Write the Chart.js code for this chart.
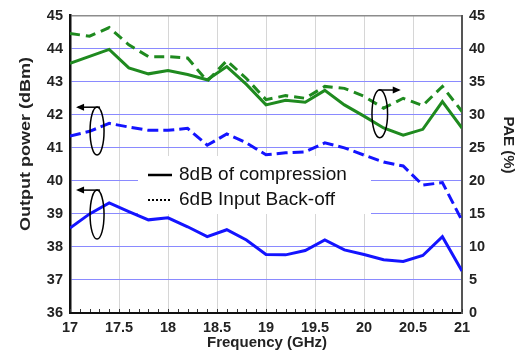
<!DOCTYPE html>
<html>
<head>
<meta charset="utf-8">
<script src="https://cdn.jsdelivr.net/npm/chart.js@4/dist/chart.umd.min.js"></script>
<style>
  html, body { margin: 0; padding: 0; background: #fff; }
  canvas { display: block; }
</style>
</head>
<body>
<canvas id="c" width="522" height="354"></canvas>
<script>
// Frequency sweep (GHz)
const freq = [17, 17.2, 17.4, 17.6, 17.8, 18, 18.2, 18.4, 18.6, 18.8, 19, 19.2, 19.4, 19.6, 19.8, 20, 20.2, 20.4, 20.6, 20.8, 21];

// Output power (dBm)
const powerComp    = [38.57, 39.0, 39.33, 39.07, 38.82, 38.88, 38.61, 38.31, 38.52, 38.21, 37.77, 37.76, 37.89, 38.21, 37.91, 37.77, 37.61, 37.56, 37.74, 38.31, 37.27];
const powerBackoff = [41.36, 41.5, 41.74, 41.63, 41.53, 41.53, 41.59, 41.08, 41.42, 41.15, 40.79, 40.85, 40.88, 41.15, 41.0, 40.78, 40.57, 40.45, 39.87, 39.95, 38.8];

// Power-added efficiency (%)
const paeComp    = [37.8, 38.85, 39.9, 37.1, 36.2, 36.7, 36.1, 35.3, 37.3, 34.6, 31.5, 32.2, 31.9, 33.7, 31.5, 29.8, 28.0, 26.9, 27.8, 32.0, 28.0];
const paeBackoff = [42.3, 41.9, 43.2, 40.6, 38.8, 38.8, 38.6, 35.1, 38.2, 35.5, 32.3, 32.9, 32.5, 34.3, 34.0, 32.8, 31.0, 32.5, 31.4, 34.3, 30.5];

// Axis ticks
const freqTicks  = [17, 17.5, 18, 18.5, 19, 19.5, 20, 20.5, 21];
const powerTicks = [36, 37, 38, 39, 40, 41, 42, 43, 44, 45];
const paeTicks   = [0, 5, 10, 15, 20, 25, 30, 35, 40, 45];

// Legend entries
const legendLabels = ['8dB of compression', '6dB Input Back-off'];

const BLUE = '#1414ff';
const GREEN = '#1f8a1f';
const zip = (xs, ys) => xs.map((x, i) => ({ x, y: ys[i] }));

const tickFont = { family: '"Liberation Sans", Arial, sans-serif', size: 14.5, weight: 'bold' };
const titleFont = 'bold 15px "Liberation Sans", Arial, sans-serif';

const overlay = {
  id: 'overlay',
  beforeDatasetsDraw(chart) {
    // white panel behind the legend hides the grid there
    const ctx = chart.ctx;
    ctx.save();
    ctx.fillStyle = '#fff';
    ctx.fillRect(138, 156, 233, 58);
    ctx.restore();
  },
  afterDatasetsDraw(chart) {
    const ctx = chart.ctx;
    const sx = chart.scales.x, sy = chart.scales.y, sy1 = chart.scales.y1;
    ctx.save();

    // minor ticks on the frequency axis
    ctx.strokeStyle = '#333';
    ctx.lineWidth = 1;
    const bottom = chart.chartArea.bottom;
    for (let k = 0; k <= 40; k++) {
      const px = Math.round(sx.getPixelForValue(17 + k * 0.1)) + 0.5;
      ctx.beginPath();
      ctx.moveTo(px, bottom - 1);
      ctx.lineTo(px, bottom - 4);
      ctx.stroke();
    }

    // ellipse markers with arrows pointing to the relevant axis
    const marker = (cx, cy, rx, ry, ax0, ax1, ay) => {
      ctx.strokeStyle = '#000';
      ctx.fillStyle = '#000';
      ctx.lineWidth = 1.5;
      ctx.beginPath();
      ctx.ellipse(cx, cy, rx, ry, 0, 0, Math.PI * 2);
      ctx.stroke();
      ctx.beginPath();
      ctx.moveTo(ax0, ay);
      ctx.lineTo(ax1, ay);
      ctx.stroke();
      const dir = Math.sign(ax1 - ax0);
      ctx.beginPath();
      ctx.moveTo(ax1 + dir * 2, ay);
      ctx.lineTo(ax1 - dir * 6, ay - 3.5);
      ctx.lineTo(ax1 - dir * 6, ay + 3.5);
      ctx.closePath();
      ctx.fill();
    };
    const ex = sx.getPixelForValue(17.276);
    marker(ex, sy.getPixelForValue(41.51), 7, 24, ex + 3, ex - 19, sy.getPixelForValue(42.23));
    marker(ex, sy.getPixelForValue(38.98), 7, 24.5, ex + 3, ex - 19, sy.getPixelForValue(39.72));
    const rx = sx.getPixelForValue(20.161);
    marker(rx, sy1.getPixelForValue(30.17), 7.8, 24, rx - 1, rx + 19, sy1.getPixelForValue(33.75));

    // legend
    ctx.strokeStyle = '#000';
    ctx.lineWidth = 2.5;
    ctx.beginPath();
    ctx.moveTo(148, 175);
    ctx.lineTo(172, 175);
    ctx.stroke();
    ctx.lineWidth = 2;
    ctx.setLineDash([2, 2]);
    ctx.beginPath();
    ctx.moveTo(148, 200);
    ctx.lineTo(172, 200);
    ctx.stroke();
    ctx.setLineDash([]);
    ctx.fillStyle = '#111';
    ctx.font = '19px "Liberation Sans", Arial, sans-serif';
    ctx.textBaseline = 'middle';
    ctx.textAlign = 'left';
    ctx.fillText(legendLabels[0], 179, 175);
    ctx.fillText(legendLabels[1], 179, 200);
    ctx.restore();
  },
  afterDraw(chart) {
    // axis titles
    const ctx = chart.ctx;
    ctx.save();
    ctx.fillStyle = '#222';
    ctx.font = titleFont;
    ctx.textAlign = 'center';
    ctx.textBaseline = 'middle';
    ctx.fillText('Frequency (GHz)', 267, 343);
    ctx.translate(26, 144);
    ctx.rotate(-Math.PI / 2);
    ctx.scale(1.2, 1);
    ctx.fillText('Output power (dBm)', 0, 0);
    ctx.restore();
    ctx.save();
    ctx.fillStyle = '#222';
    ctx.font = titleFont;
    ctx.textAlign = 'center';
    ctx.textBaseline = 'middle';
    ctx.translate(508, 145);
    ctx.rotate(Math.PI / 2);
    ctx.fillText('PAE (%)', 0, 0);
    ctx.restore();
  }
};

new Chart(document.getElementById('c'), {
  type: 'line',
  data: {
    datasets: [
      { label: 'Pout ' + legendLabels[0], data: zip(freq, powerComp), yAxisID: 'y',
        borderColor: BLUE, borderWidth: 3 },
      { label: 'Pout ' + legendLabels[1], data: zip(freq, powerBackoff), yAxisID: 'y',
        borderColor: BLUE, borderWidth: 3, borderDash: [11, 5] },
      { label: 'PAE ' + legendLabels[0], data: zip(freq, paeComp), yAxisID: 'y1',
        borderColor: GREEN, borderWidth: 3 },
      { label: 'PAE ' + legendLabels[1], data: zip(freq, paeBackoff), yAxisID: 'y1',
        borderColor: GREEN, borderWidth: 3, borderDash: [10, 6] }
    ]
  },
  options: {
    responsive: false,
    animation: false,
    events: [],
    layout: { padding: { top: 14, left: 0, right: 0, bottom: 0 } },
    elements: { point: { radius: 0 }, line: { tension: 0, borderCapStyle: 'butt', borderJoinStyle: 'miter' } },
    plugins: { legend: { display: false }, tooltip: { enabled: false } },
    scales: {
      x: {
        type: 'linear', min: 17, max: 21,
        afterFit(s) { s.height = 41; },
        afterBuildTicks(s) { s.ticks = freqTicks.map(v => ({ value: v })); },
        ticks: { font: tickFont, color: '#222', padding: 6, maxRotation: 0,
                 callback: v => String(v) },
        grid: { drawTicks: false,
                color: c => (c.tick && (c.tick.value === 17 || c.tick.value === 21)) ? 'rgba(0,0,0,0)' : '#d6d6d6',
                lineWidth: 1 },
        border: { display: true, color: '#111', width: 2 }
      },
      y: {
        type: 'linear', position: 'left', min: 36, max: 45,
        afterFit(s) { s.width = 70; },
        afterBuildTicks(s) { s.ticks = powerTicks.map(v => ({ value: v })); },
        ticks: { font: tickFont, color: '#222', padding: 7 },
        grid: { drawTicks: false,
                color: c => {
                  const v = c.tick && c.tick.value;
                  if (v === 36) return 'rgba(0,0,0,0)';
                  if (v === 45) return '#8c8c8c';
                  return '#8a8aff';
                },
                lineWidth: c => (c.tick && c.tick.value === 45) ? 1.5 : 1 },
        border: { display: true, color: '#111', width: 2.5 }
      },
      y1: {
        type: 'linear', position: 'right', min: 0, max: 45,
        afterFit(s) { s.width = 60; },
        afterBuildTicks(s) { s.ticks = paeTicks.map(v => ({ value: v })); },
        ticks: { font: tickFont, color: '#222', padding: 7 },
        grid: { drawOnChartArea: false, drawTicks: false },
        border: { display: true, color: '#555', width: 2 }
      }
    }
  },
  plugins: [overlay]
});
</script>
</body>
</html>
